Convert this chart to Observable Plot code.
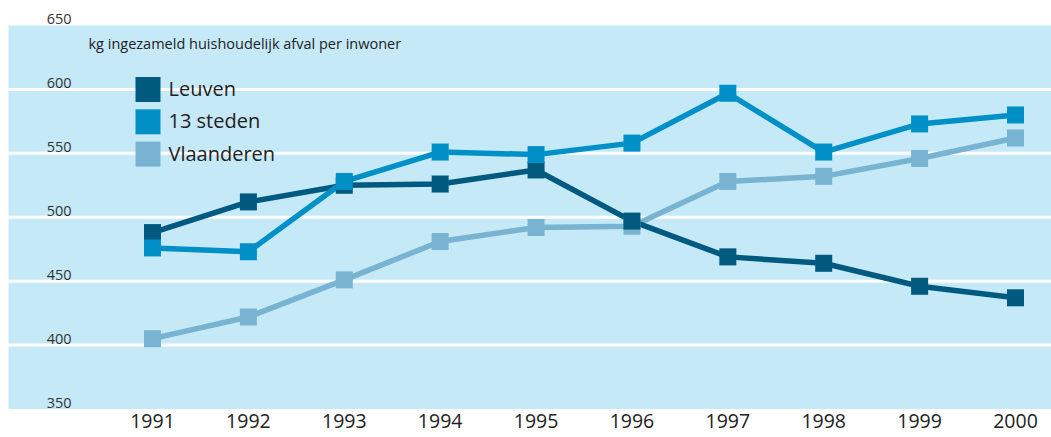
<!DOCTYPE html>
<html><head><meta charset="utf-8">
<script src="https://cdn.jsdelivr.net/npm/d3@7"></script>
<script src="https://cdn.jsdelivr.net/npm/@observablehq/plot@0.6"></script>
<style>body{margin:0;background:#fff;font-family:"Open Sans",sans-serif;}</style>
</head><body><div id="chart"></div>
<script>
const years = [1991,1992,1993,1994,1995,1996,1997,1998,1999,2000];
const leuven = [488,512,525,526,537,497,469,464,446,437];
const steden = [476,473,528,551,549,558,597,551,573,580];
const vlaanderen = [405,422,451,481,492,493,528,532,546,562];
const seriesNames = ["Leuven","13 steden","Vlaanderen"];
const seriesColors = ["#005a80","#0090c8","#78b4d2"];
const yTicks = [350,400,450,500,550,600,650];
const gridTicks = [400,450,500,550,600];
const subtitle = "kg ingezameld huishoudelijk afval per inwoner";

const valuesBy = {"Leuven":leuven,"13 steden":steden,"Vlaanderen":vlaanderen};
const drawOrder = ["Vlaanderen","Leuven","13 steden"];
const data = drawOrder.flatMap(s => years.map((y,i)=>({series:s, year:y, value:valuesBy[s][i]})));

const color = {domain: seriesNames, range: seriesColors};

const legendMarks = seriesNames.flatMap((s,i)=>[
  Plot.dot([s], {frameAnchor:"top-left", dx:-4.5, dy:64+i*32.3, symbol:"square", r:14.1, fill:seriesColors[i]}),
  Plot.text([s], {frameAnchor:"top-left", dx:16, dy:64+i*32.3, text:d=>d, textAnchor:"start", lineAnchor:"middle", fontSize:20, fill:"#222"})
]);

const chart = Plot.plot({
  width:1051, height:437,
  marginLeft:152, marginRight:36, marginTop:25, marginBottom:28.5,
  style:{fontFamily:"Open Sans, sans-serif", background:"transparent"},
  x:{type:"linear", domain:[1991,2000], axis:null},
  y:{domain:[350,650], axis:null},
  color,
  marks:[
    Plot.frame({fill:"#c6e9f8", stroke:null, insetLeft:-144, insetRight:-36}),
    Plot.ruleY(gridTicks, {stroke:"white", strokeWidth:3, insetLeft:-144, insetRight:-36}),
    Plot.text(yTicks, {y:d=>d, frameAnchor:"left", dx:-81, dy:-6, text:d=>String(d), textAnchor:"end", fontSize:14.5, fill:"#333"}),
    Plot.text(years, {x:d=>d, frameAnchor:"bottom", dy:19, text:d=>String(d), fontSize:19.5, fill:"#222"}),
    Plot.text([subtitle], {frameAnchor:"top-left", dx:-64, dy:19, text:d=>d, textAnchor:"start", lineAnchor:"middle", fontSize:14.5, fill:"#222"}),
    Plot.line(data, {x:"year", y:"value", z:"series", stroke:"series", strokeWidth:5.5}),
    Plot.dot(data, {x:"year", y:"value", fill:"series", symbol:"square", r:9.6}),
    ...legendMarks
  ]
});
document.getElementById("chart").append(chart);
</script></body></html>
